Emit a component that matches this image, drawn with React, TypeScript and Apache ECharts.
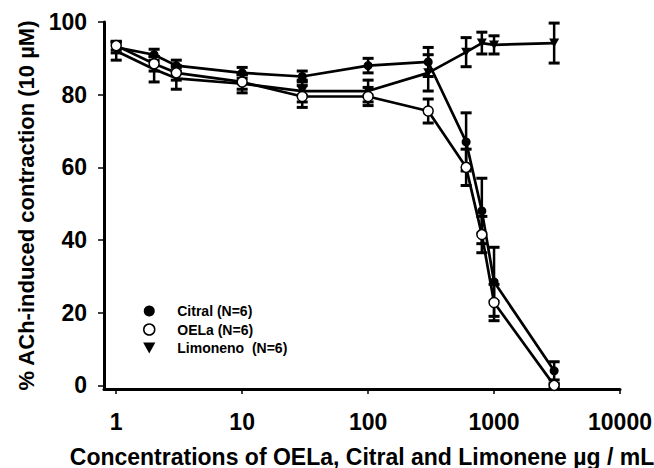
import React, { useEffect, useRef } from "react";
import * as echarts from "echarts";

const concentrations = [1, 2, 3, 10, 30, 100, 300, 600, 800, 1000, 3000];
const citral = [93, 91, 88, 86, 85, 88, 89, 67, 48, 28.5, 4];
const citralErr = [1.5, 1.5, 1.5, 1.5, 1.5, 2, 4, 8, 9, 9.5, 2.5];
const oela = [93.5, 88.5, 86, 83.5, 79.5, 79.5, 75.5, 60, 41.5, 22.8, 0];
const oelaErr = [1.2, 2, 2, 2, 3, 2.5, 3.3, 5, 5, 5, 0.5];
const limoneno = [92, 87, 84.5, 83, 81, 81, 86, 91.7, 94.2, 93.7, 94.2];
const limonenoErr = [2.5, 3.5, 3, 2.5, 3, 3, 5, 4, 3, 2.5, 5.5];
const yTicks = [0, 20, 40, 60, 80, 100];
const xTicks = [1, 10, 100, 1000, 10000];

const names = ["Citral (N=6)", "OELa (N=6)", "Limoneno  (N=6)"];
const FONT = "'Liberation Sans', Arial, sans-serif";

function errData(vals: number[], errs: number[]) {
  return concentrations.map((c, i) => [c, vals[i] - errs[i], vals[i] + errs[i]]);
}

function errSeries(vals: number[], errs: number[]) {
  return {
    type: "custom",
    coordinateSystem: "cartesian2d",
    clip: false,
    silent: true,
    z: 1,
    encode: { x: 0, y: [1, 2] },
    data: errData(vals, errs),
    renderItem: (params: any, api: any) => {
      const x = api.value(0);
      const lo = api.coord([x, api.value(1)]);
      const hi = api.coord([x, api.value(2)]);
      const w = 5.5;
      const st = { stroke: "#000", lineWidth: 2.5 };
      return {
        type: "group",
        children: [
          { type: "line", shape: { x1: lo[0], y1: lo[1], x2: hi[0], y2: hi[1] }, style: st },
          { type: "line", shape: { x1: lo[0] - w, y1: lo[1], x2: lo[0] + w, y2: lo[1] }, style: { stroke: "#000", lineWidth: 3 } },
          { type: "line", shape: { x1: hi[0] - w, y1: hi[1], x2: hi[0] + w, y2: hi[1] }, style: { stroke: "#000", lineWidth: 3 } },
        ],
      };
    },
  };
}

const triDown = "path://M0,0L10,0L5,9Z";

export default function App() {
  const ref = useRef<HTMLDivElement>(null);
  useEffect(() => {
    if (!ref.current) return;
    const chart = echarts.init(ref.current, undefined, { renderer: "svg" });
    chart.setOption({
      animation: false,
      backgroundColor: "#fff",
      grid: { left: 104, right: 34, top: 22, bottom: 79, containLabel: false, outerBoundsMode: "none" },
      legend: {
        orient: "vertical",
        left: 143,
        top: 304,
        itemWidth: 46,
        itemHeight: 11,
        itemGap: 4.5,
        padding: 0,
        textStyle: { fontFamily: FONT, fontWeight: "bold", fontSize: 14, color: "#000" },
        data: [
          { name: names[0], icon: "circle", itemStyle: { color: "#000", borderWidth: 0 } },
          { name: names[1], icon: "circle", itemStyle: { color: "#fff", borderColor: "#000", borderWidth: 1.5 } },
          { name: names[2], icon: triDown, itemStyle: { color: "#000", borderWidth: 0 } },
        ],
      },
      xAxis: {
        type: "log",
        logBase: 10,
        min: 0.8,
        max: 10000,
        name: "Concentrations of OELa, Citral and Limonene µg / mL",
        nameLocation: "middle",
        nameGap: 56,
        nameTextStyle: { fontFamily: FONT, fontWeight: "bold", fontSize: 23, color: "#000" },
        axisLine: { show: true, onZero: false, lineStyle: { color: "#000", width: 3 } },
        axisTick: { show: true, length: 5, lineStyle: { color: "#000", width: 1.5 }, customValues: xTicks },
        minorTick: { show: false },
        splitLine: { show: false },
        axisLabel: {
          customValues: xTicks,
          margin: 21,
          fontFamily: FONT,
          fontWeight: "bold",
          fontSize: 23,
          color: "#000",
          formatter: (v: number) => (v < 1 ? "" : String(Math.round(v))),
        },
      },
      yAxis: {
        type: "value",
        min: -1,
        max: 100,
        name: "% ACh-induced contraction (10 µM)",
        nameLocation: "middle",
        nameGap: 62,
        nameTextStyle: { fontFamily: FONT, fontWeight: "bold", fontSize: 22, color: "#000" },
        axisLine: { show: true, lineStyle: { color: "#000", width: 3 } },
        axisTick: { show: true, length: 6, lineStyle: { color: "#000", width: 1.5 }, customValues: yTicks },
        splitLine: { show: false },
        axisLabel: {
          customValues: yTicks,
          margin: 17,
          fontFamily: FONT,
          fontWeight: "bold",
          fontSize: 23,
          color: "#000",
        },
      },
      series: [
        errSeries(citral, citralErr),
        errSeries(oela, oelaErr),
        errSeries(limoneno, limonenoErr),
        {
          name: names[0],
          type: "line",
          z: 3,
          data: concentrations.map((c, i) => [c, citral[i]]),
          symbol: "circle",
          symbolSize: 9,
          itemStyle: { color: "#000" },
          lineStyle: { color: "#000", width: 2.7 },
        },
        {
          name: names[1],
          type: "line",
          z: 4,
          data: concentrations.map((c, i) => [c, oela[i]]),
          symbol: "circle",
          symbolSize: 10,
          itemStyle: { color: "#fff", borderColor: "#000", borderWidth: 1.5 },
          lineStyle: { color: "#000", width: 2.7 },
        },
        {
          name: names[2],
          type: "line",
          z: 3,
          data: concentrations.map((c, i) => [c, limoneno[i]]),
          symbol: triDown,
          symbolSize: [10, 9],
          itemStyle: { color: "#000" },
          lineStyle: { color: "#000", width: 2.7 },
        },
      ],
    });
    return () => chart.dispose();
  }, []);
  return <div ref={ref} style={{ width: 654, height: 468, position: "absolute", left: 0, top: 0 }} />;
}
